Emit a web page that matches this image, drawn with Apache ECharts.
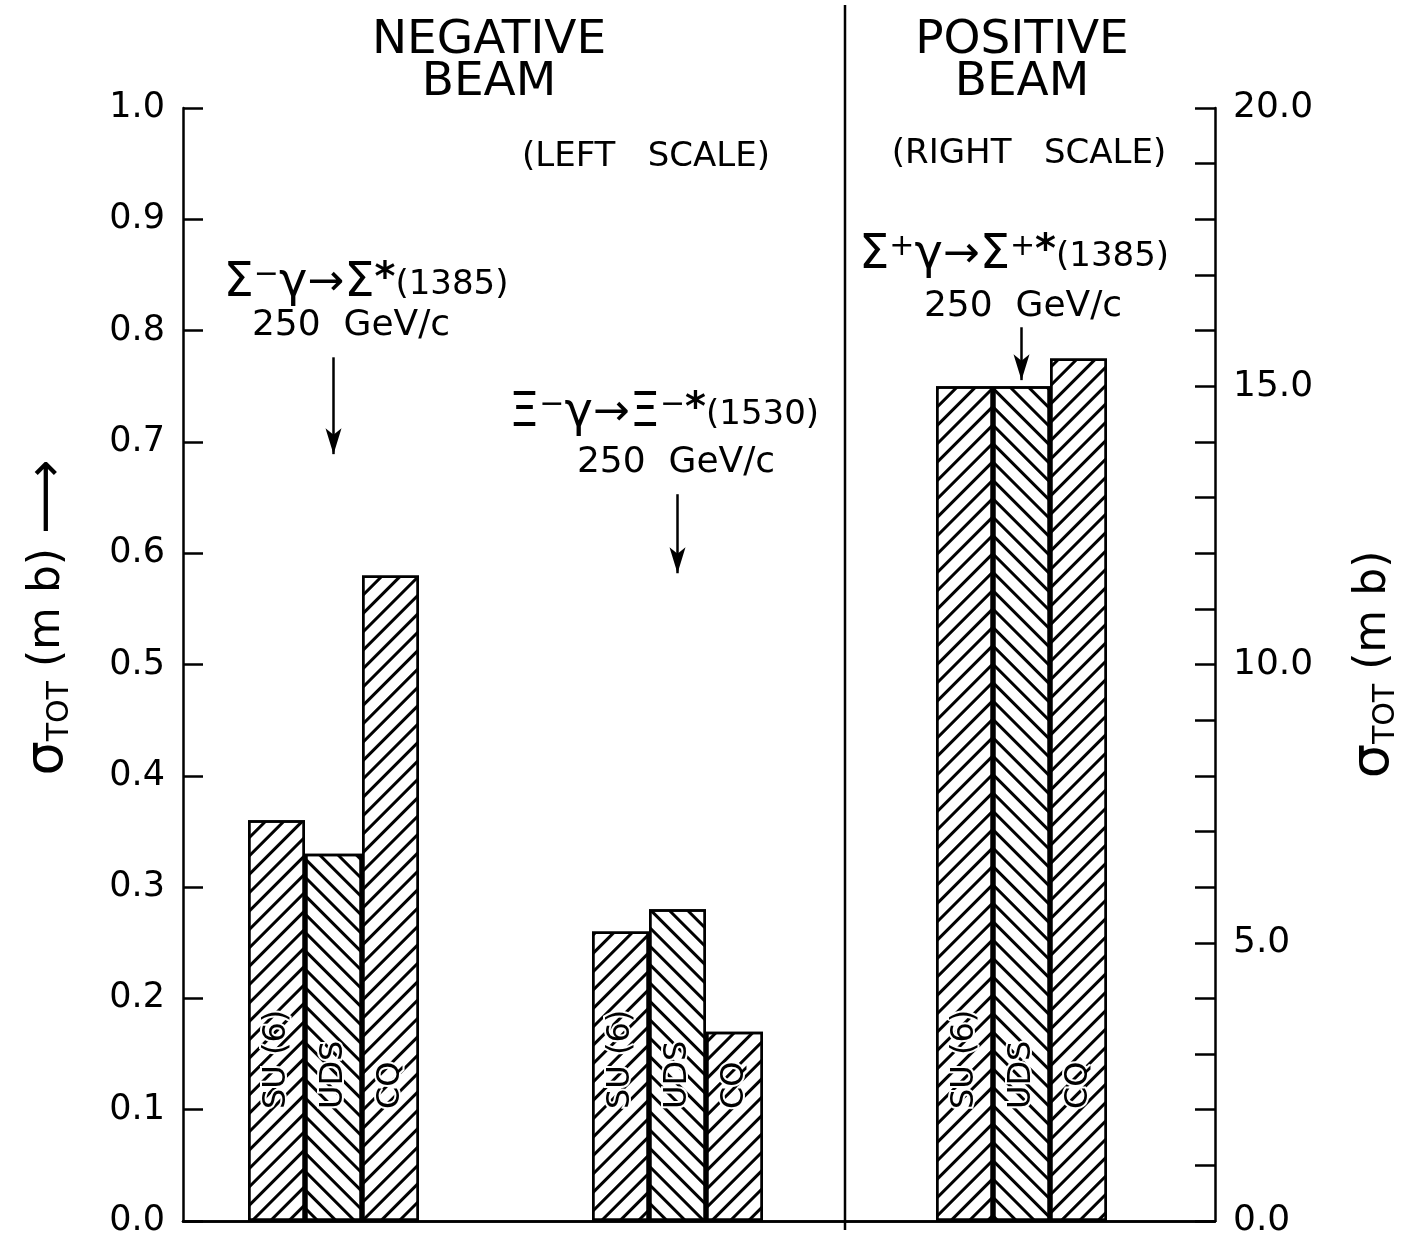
<!DOCTYPE html>
<html><head><meta charset="utf-8">
<script src="https://cdn.jsdelivr.net/npm/echarts/dist/echarts.min.js"></script>
<style>html,body{margin:0;padding:0;background:#fff}#c{width:1414px;height:1239px}</style>
</head><body><div id="c"></div>
<script>
// ---- data ----
const reactions = ['Σ⁻γ→Σ*(1385)', 'Ξ⁻γ→Ξ⁻*(1530)', 'Σ⁺γ→Σ⁺*(1385)'];
const reactionScale = ['left', 'left', 'right'];
const models = ['SU (6)', 'UDS', 'CQ'];
const su6Values = [0.36, 0.26, 15.0];
const udsValues = [0.33, 0.28, 15.0];
const cqValues = [0.58, 0.17, 15.5];
const leftTickLabels = ['0.0','0.1','0.2','0.3','0.4','0.5','0.6','0.7','0.8','0.9','1.0'];
const rightTickLabels = ['0.0','5.0','10.0','15.0','20.0'];
const arrowFrom = [0.776, 0.653, 16.06];
const arrowTo = [0.689, 0.582, 15.11];

// ---- layout helpers ----
const FONT = 'DejaVu Sans';
const SLOTS = 24, FIRST = 3, STEP = 8;
const slotOf = i => FIRST + STEP * i;
const cats = Array.from({length: SLOTS}, (_, k) => {
  const r = (k - FIRST) / STEP;
  return (Number.isInteger(r) && r >= 0 && r < reactions.length) ? reactions[r] : 'slot' + k;
});
const modelValues = [su6Values, udsValues, cqValues];
const hatch = [-Math.PI / 4, Math.PI / 4, -Math.PI / 4];

function buildData(values, side) {
  const d = new Array(SLOTS).fill('-');
  reactions.forEach((_, i) => { if (reactionScale[i] === side) d[slotOf(i)] = values[i]; });
  return d;
}
function arrows(side) {
  const out = [];
  reactions.forEach((r, i) => {
    if (reactionScale[i] === side) out.push([{coord: [cats[slotOf(i)], arrowFrom[i]]}, {coord: [cats[slotOf(i)], arrowTo[i]]}]);
  });
  return out;
}

const series = [];
['left', 'right'].forEach((side, si) => {
  models.forEach((m, mi) => {
    const s = {
      type: 'bar', name: m + ' ' + side,
      xAxisIndex: si, yAxisIndex: si,
      data: buildData(modelValues[mi], side),
      barWidth: 57, barGap: '0%',
      itemStyle: {
        color: '#fff', borderColor: '#000', borderWidth: 2.5,
        decal: { symbol: 'rect', symbolSize: 1, dashArrayX: [1, 0], dashArrayY: [2.6, 10], rotation: hatch[mi], color: '#000' }
      },
      label: {
        show: true, position: 'insideBottom', rotate: 90, align: 'left', verticalAlign: 'middle',
        distance: 112, formatter: m, fontFamily: FONT, fontSize: 32, color: '#000',
        textBorderColor: '#fff', textBorderWidth: 4
      },
      emphasis: { disabled: true }, silent: true
    };
    if (mi === 1) {
      s.markLine = {
        silent: true, symbol: ['none', 'arrow'], symbolSize: [12, 26], animation: false,
        lineStyle: { color: '#000', width: 2.5, type: 'solid' }, label: { show: false },
        data: arrows(side)
      };
    }
    series.push(s);
  });
});

const reacRich = {
  b: { fontSize: 48, fontFamily: FONT },
  sup: { fontSize: 30, fontFamily: FONT, verticalAlign: 'top' },
  star: { fontSize: 40, fontFamily: FONT, verticalAlign: 'top', fontWeight: 'bold' },
  arr: { fontSize: 44, fontFamily: FONT },
  sm: { fontSize: 34, fontFamily: FONT, verticalAlign: 'bottom', padding: [0, 0, 6, 0] }
};
const reacText = (t) => ({ text: t, textAlign: 'center', textVerticalAlign: 'middle', fontFamily: FONT, fill: '#000', rich: reacRich });
const plainText = (t, size) => ({ text: t, textAlign: 'center', textVerticalAlign: 'middle', fontSize: size, fontFamily: FONT, fill: '#000' });

const axisLine = { show: true, lineStyle: { color: '#000', width: 2.5 } };
const option = {
  animation: false,
  backgroundColor: '#fff',
  aria: { enabled: true, decal: { show: false } },
  grid: { left: 183, right: 199, top: 108, bottom: 9, containLabel: false },
  xAxis: [
    { type: 'category', data: cats, position: 'bottom', axisLine, axisTick: { show: false }, axisLabel: { show: false }, splitLine: { show: false } },
    { type: 'category', data: cats, position: 'top', axisLine, axisTick: { show: false }, axisLabel: { show: false }, splitLine: { show: false } }
  ],
  yAxis: [
    {
      type: 'value', position: 'left', min: 0, max: 1, interval: 0.1,
      axisLine, axisTick: { show: true, inside: true, length: 20, lineStyle: { color: '#000', width: 2.5 } },
      axisLabel: { formatter: (v) => leftTickLabels[Math.round(v * 10)], fontFamily: FONT, fontSize: 35, color: '#000', margin: 18 },
      splitLine: { show: false },
      name: '{s|σ}{sub|TOT} (m b) {a|⟶}', nameLocation: 'middle', nameRotate: 90, nameGap: 108,
      nameTextStyle: { fontFamily: FONT, fontSize: 44, color: '#000', padding: [0, 0, 0, 94],
        rich: { s: { fontFamily: FONT, fontSize: 54, verticalAlign: 'top' }, sub: { fontFamily: FONT, fontSize: 30, verticalAlign: 'bottom' }, a: { fontFamily: FONT, fontSize: 52 } } }
    },
    {
      type: 'value', position: 'right', min: 0, max: 20, interval: 5,
      axisLine, axisTick: { show: true, inside: true, length: 20, lineStyle: { color: '#000', width: 2.5 } },
      minorTick: { show: true, splitNumber: 5, length: 20, lineStyle: { color: '#000', width: 2.5 } },
      axisLabel: { formatter: (v) => rightTickLabels[Math.round(v / 5)], fontFamily: FONT, fontSize: 36, color: '#000', margin: 18 },
      splitLine: { show: false },
      name: '{s|σ}{sub|TOT} (m b)', nameLocation: 'middle', nameRotate: 90, nameGap: 132,
      nameTextStyle: { fontFamily: FONT, fontSize: 44, color: '#000',
        rich: { s: { fontFamily: FONT, fontSize: 54, verticalAlign: 'top' }, sub: { fontFamily: FONT, fontSize: 30, verticalAlign: 'bottom' } } }
    }
  ],
  graphic: [
    { type: 'line', shape: { x1: 845, y1: 5, x2: 845, y2: 1230 }, style: { stroke: '#000', lineWidth: 2.5 }, silent: true },
    { type: 'text', x: 489, y: 62, style: Object.assign(plainText('NEGATIVE\nBEAM', 47), { lineHeight: 42 }) },
    { type: 'text', x: 1022, y: 62, style: Object.assign(plainText('POSITIVE\nBEAM', 47), { lineHeight: 42 }) },
    { type: 'text', x: 646, y: 157, style: plainText('(LEFT   SCALE)', 34) },
    { type: 'text', x: 1029, y: 154, style: plainText('(RIGHT   SCALE)', 34) },
    { type: 'text', x: 366, y: 284, style: reacText('{b|Σ}{sup|−}{b|γ}{arr|→}{b|Σ}{star|*}{sm|(1385)}') },
    { type: 'text', x: 351, y: 326, style: plainText('250  GeV/c', 36) },
    { type: 'text', x: 664, y: 414, style: reacText('{b|Ξ}{sup|−}{b|γ}{arr|→}{b|Ξ}{sup|−}{star|*}{sm|(1530)}') },
    { type: 'text', x: 676, y: 463, style: plainText('250  GeV/c', 36) },
    { type: 'text', x: 1014, y: 256, style: reacText('{b|Σ}{sup|+}{b|γ}{arr|→}{b|Σ}{sup|+}{star|*}{sm|(1385)}') },
    { type: 'text', x: 1023, y: 307, style: plainText('250  GeV/c', 36) }
  ],
  series
};
const chart = echarts.init(document.getElementById('c'), null, { renderer: 'canvas' });
chart.setOption(option);
</script></body></html>
